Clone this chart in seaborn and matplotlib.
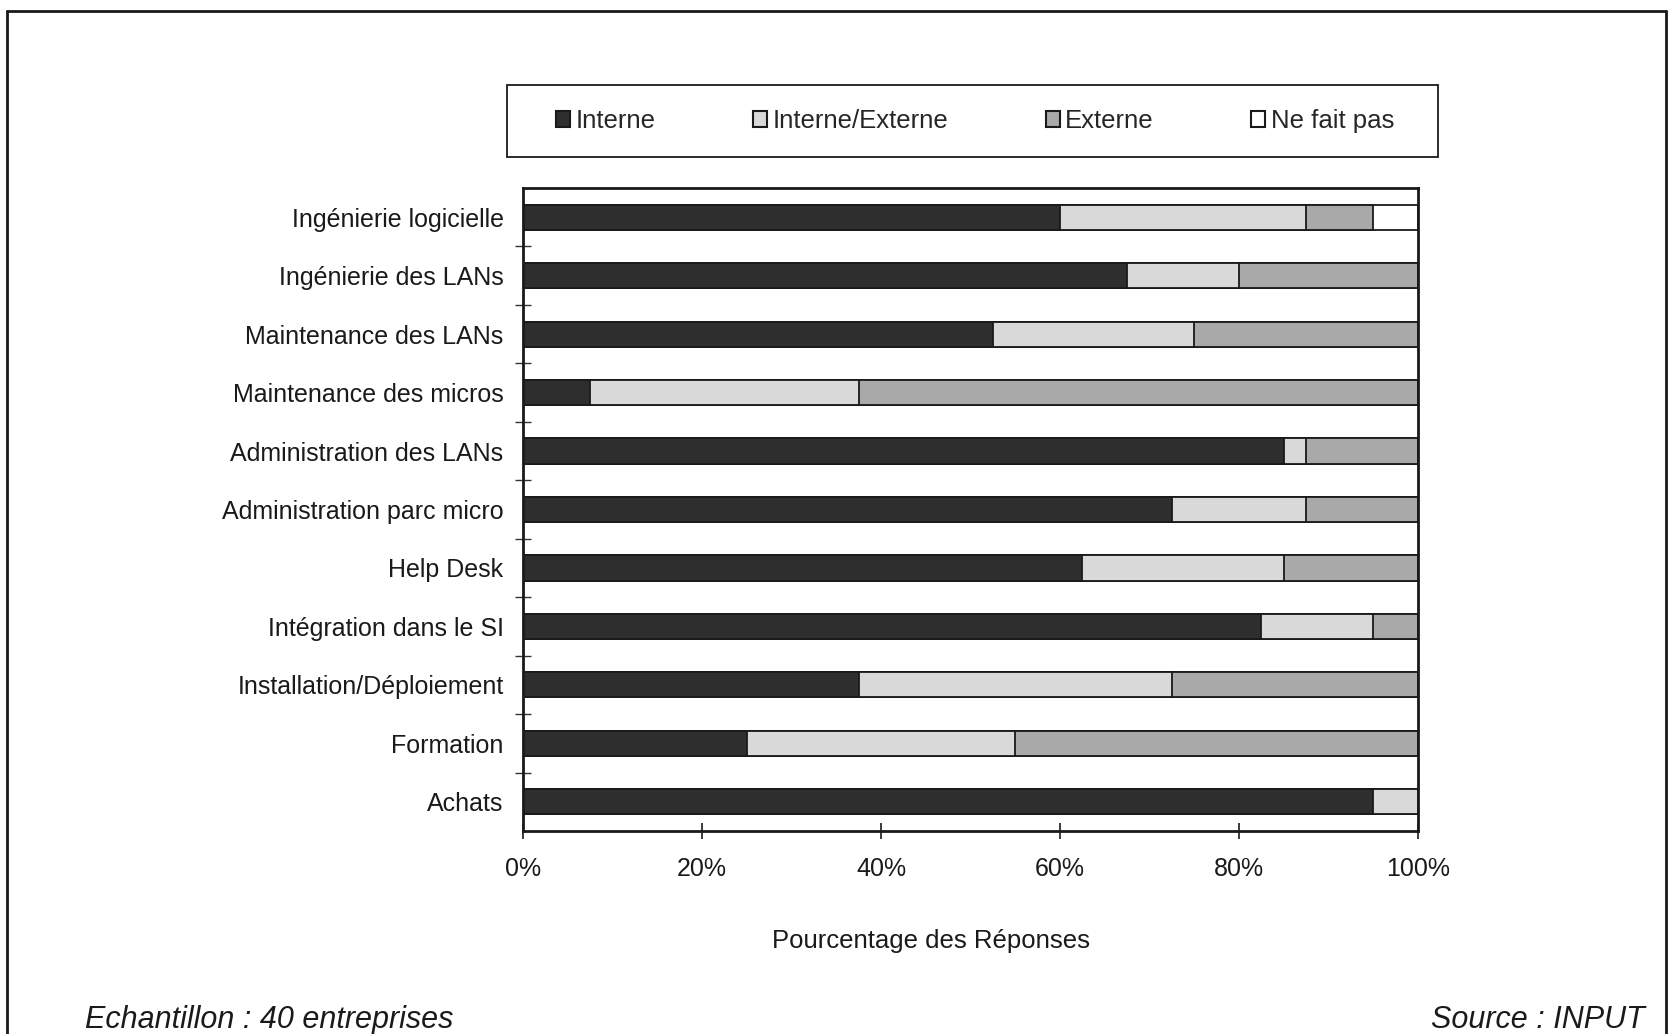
import matplotlib
matplotlib.use("Agg")
import matplotlib.pyplot as plt
from matplotlib.patches import Rectangle, Patch
from matplotlib.lines import Line2D
from matplotlib.ticker import FixedLocator, PercentFormatter
import numpy as np
import pandas as pd
import seaborn as sns

# Activities, top to bottom
categories = [
    "Ingénierie logicielle",
    "Ingénierie des LANs",
    "Maintenance des LANs",
    "Maintenance des micros",
    "Administration des LANs",
    "Administration parc micro",
    "Help Desk",
    "Intégration dans le SI",
    "Installation/Déploiement",
    "Formation",
    "Achats",
]

# Share of answers (%) per mode of delivery
interne = [60.0, 67.5, 52.5, 7.5, 85.0, 72.5, 62.5, 82.5, 37.5, 25.0, 95.0]
interne_externe = [27.5, 12.5, 22.5, 30.0, 2.5, 15.0, 22.5, 12.5, 35.0, 30.0, 5.0]
externe = [7.5, 20.0, 25.0, 62.5, 12.5, 12.5, 15.0, 5.0, 27.5, 45.0, 0.0]
ne_fait_pas = [5.0, 0.0, 0.0, 0.0, 0.0, 0.0, 0.0, 0.0, 0.0, 0.0, 0.0]

series_names = ["Interne", "Interne/Externe", "Externe", "Ne fait pas"]
series_colors = ["#2e2e2e", "#d9d9d9", "#a9a9a9", "#ffffff"]
x_ticks = [0, 20, 40, 60, 80, 100]

sns.set_theme(style="white")
plt.rcParams["font.family"] = ["Liberation Sans", "DejaVu Sans"]

df = pd.DataFrame({
    "Activité": categories,
    "Interne": interne,
    "Interne/Externe": interne_externe,
    "Externe": externe,
    "Ne fait pas": ne_fait_pas,
})

# Cumulative ends of each segment for stacking
cum = df[series_names].cumsum(axis=1)

fig = plt.figure(figsize=(16.74, 10.34), dpi=100)
fig.patch.set_facecolor("white")
ax = fig.add_axes([523 / 1674, 1 - 831 / 1034, (1418 - 523) / 1674, (831 - 188) / 1034])

# Draw the longest cumulative segment first so shorter ones sit on top
for name, color in reversed(list(zip(series_names, series_colors))):
    sns.barplot(
        x=cum[name], y=df["Activité"], order=categories, orient="h",
        color=color, saturation=1, width=0.43, ax=ax,
        edgecolor="#1a1a1a", linewidth=1.3,
    )

ax.set_xlim(0, 100)
ax.set_ylim(len(categories) - 0.5, -0.5)
ax.xaxis.set_major_locator(FixedLocator(x_ticks))
ax.xaxis.set_major_formatter(PercentFormatter(decimals=0))
ax.set_xlabel("Pourcentage des Réponses", fontsize=18.5, color="#1a1a1a")
ax.xaxis.set_label_coords((931 - 523) / 895, (831 - 941) / 643)
ax.xaxis.label.set_va("center")
ax.set_ylabel("")

ax.tick_params(axis="x", which="major", direction="inout", length=12, width=1.2,
               bottom=True, labelsize=18, pad=13, colors="#1a1a1a")
ax.tick_params(axis="y", which="major", length=0, labelsize=18, pad=14,
               colors="#1a1a1a")
ax.yaxis.set_minor_locator(FixedLocator(np.arange(0.5, len(categories) - 0.5, 1.0)))
ax.tick_params(axis="y", which="minor", direction="inout", length=12, width=1.0,
               left=True, color="#333333")

for side in ["left", "right", "top", "bottom"]:
    ax.spines[side].set_visible(True)
    ax.spines[side].set_color("#1a1a1a")
    ax.spines[side].set_linewidth(2.0)

# Legend box
fig.add_artist(Rectangle((507 / 1674, 1 - 157 / 1034), (1438 - 507) / 1674, 72 / 1034,
                         transform=fig.transFigure, facecolor="white",
                         edgecolor="#1a1a1a", linewidth=1.3))
handles = [Patch(facecolor=c, edgecolor="#1a1a1a", linewidth=1.5) for c in series_colors]
fig.legend(handles, series_names, loc="center", ncol=4, mode="expand",
           bbox_to_anchor=(556 / 1674, 1 - 141 / 1034, (1394 - 556) / 1674, 40 / 1034),
           frameon=False, fontsize=18.5, handlelength=0.55, handleheight=0.6,
           handletextpad=0.2, borderaxespad=0, borderpad=0)

# Page frame
lw = 2.0
fig.add_artist(Line2D([7 / 1674, 7 / 1674], [0, 1 - 11 / 1034], transform=fig.transFigure,
                      color="#1a1a1a", linewidth=lw))
fig.add_artist(Line2D([7 / 1674, 1666 / 1674], [1 - 11 / 1034, 1 - 11 / 1034],
                      transform=fig.transFigure, color="#1a1a1a", linewidth=lw))
fig.add_artist(Line2D([1666 / 1674, 1666 / 1674], [0, 1 - 11 / 1034], transform=fig.transFigure,
                      color="#1a1a1a", linewidth=lw))

# Footer notes
fig.text(85 / 1674, 1 - 1028 / 1034, "Echantillon : 40 entreprises", fontsize=22,
         style="italic", ha="left", va="baseline", color="#1a1a1a")
fig.text(1645 / 1674, 1 - 1028 / 1034, "Source : INPUT", fontsize=22,
         style="italic", ha="right", va="baseline", color="#1a1a1a")

fig.savefig("out.png", dpi=100, facecolor="white")
